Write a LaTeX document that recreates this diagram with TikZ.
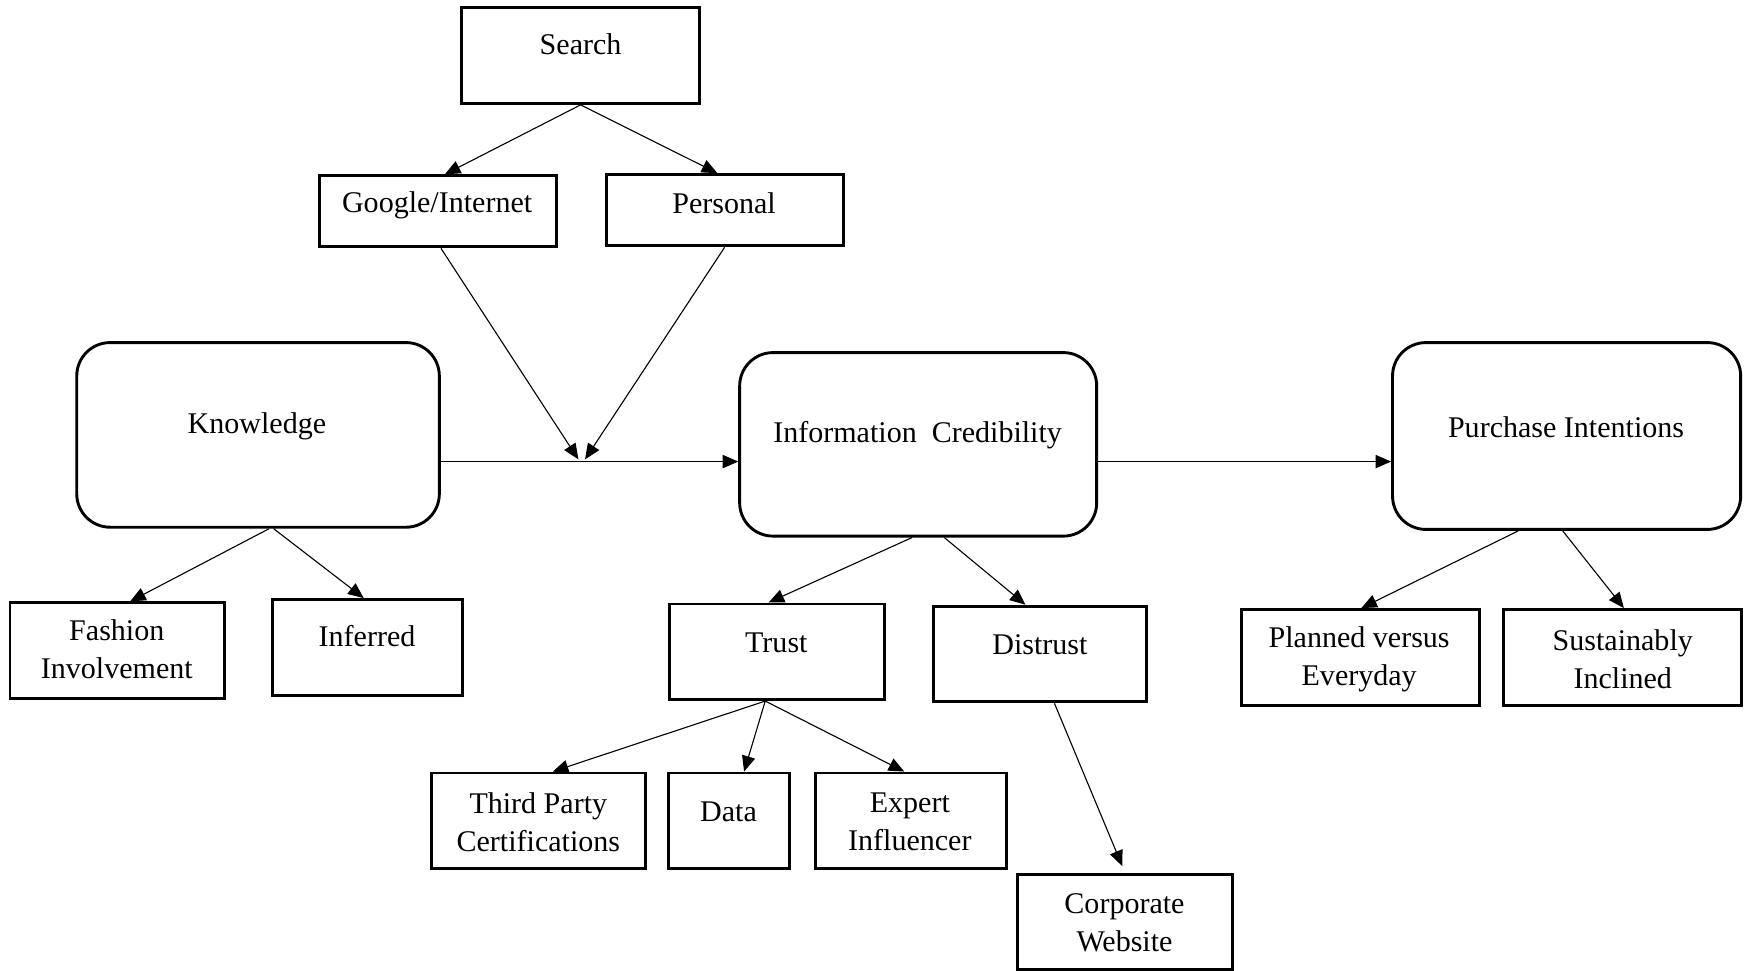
\documentclass[tikz,border=0pt]{standalone}
\usepackage{fontspec}
\setmainfont{Liberation Serif}
\usetikzlibrary{arrows.meta,fit,calc}
\tikzset{
  box/.style={draw, line width=1.3pt, inner sep=0pt},
  rbox/.style={box, rounded corners=15pt},
  txt/.style={inner sep=0pt, align=center, font=\fontsize{13.5}{17}\selectfont},
  arr/.style={line width=0.5pt, -{Triangle[length=7pt,width=6pt]}}
}
\begin{document}
\begin{tikzpicture}[x=0.5pt,y=-0.5pt]
\useasboundingbox (0,0) rectangle (1568,873);
% boxes
\node[box, fit={(415,7) (629,93)}] (search) {};
\node[box, fit={(287,158) (500,222)}] (google) {};
\node[box, fit={(545,157) (758,221)}] (personal) {};
\node[rbox, fit={(69,308) (395,474)}] (knowledge) {};
\node[rbox, fit={(665,317) (986,482)}] (ic) {};
\node[rbox, fit={(1252,308) (1565,476)}] (purchase) {};
\node[box, fit={(9,542) (202,628)}] (fashion) {};
\node[box, fit={(245,539) (416,625)}] (inferred) {};
\node[box, fit={(602,543) (795,629)}] (trust) {};
\node[box, fit={(839,545) (1031,631)}] (distrust) {};
\node[box, fit={(1116,548) (1330,634)}] (planned) {};
\node[box, fit={(1352,548) (1566,634)}] (sustain) {};
\node[box, fit={(388,695) (580,781)}] (third) {};
\node[box, fit={(601,695) (710,781)}] (data) {};
\node[box, fit={(733,695) (905,781)}] (expert) {};
\node[box, fit={(915,786) (1108,872)}] (corporate) {};
% texts
\node[txt] (t-search) at (522,40) {Search};
\node[txt] (t-google) at (393,185) {Google/Internet};
\node[txt] (t-personal) at (651,183) {Personal};
\node[txt] (t-knowledge) at (231,383) {Knowledge};
\node[txt] (t-ic) at (825,391) {Information\ \ Credibility};
\node[txt] (t-purchase) at (1408,384) {Purchase Intentions};
\node[txt] (t-fashion) at (105,584) {Fashion\\Involvement};
\node[txt] (t-inferred) at (330,572) {Inferred};
\node[txt] (t-trust) at (698,578) {Trust};
\node[txt] (t-distrust) at (935,580) {Distrust};
\node[txt] (t-planned) at (1222,593) {Planned versus\\Everyday};
\node[txt] (t-sustain) at (1459,593) {Sustainably\\Inclined};
\node[txt] (t-third) at (484,739) {Third Party\\Certifications};
\node[txt] (t-data) at (655,730) {Data};
\node[txt] (t-expert) at (818,739) {Expert\\Influencer};
\node[txt] (t-corporate) at (1011,830) {Corporate\\Website};
% junction
\coordinate (j) at (523,415);
\coordinate (jl) at (520,413);
\coordinate (jr) at (526,413);
% connectors
\draw[arr] (search.south) -- ([xshift=3.25pt]google.north);
\draw[arr] (search.south) -- ([xshift=-3.25pt]personal.north);
\draw[arr] ([xshift=1.5pt]google.south) -- (jl);
\draw[arr] (personal.south) -- (jr);
\draw[arr] (knowledge.east |- j) -- (ic.west |- j);
\draw[arr] (ic.east |- j) -- (purchase.west |- j);
\draw[arr] ([xshift=5pt]knowledge.south) -- ([xshift=5.75pt]fashion.north);
\draw[arr] ([xshift=7pt]knowledge.south) -- ([xshift=-1.75pt]inferred.north);
\draw[arr] ([xshift=-2.75pt]ic.south) -- ([xshift=-3.75pt]trust.north);
\draw[arr] ([xshift=11.75pt]ic.south) -- ([xshift=-6.5pt]distrust.north);
\draw[arr] ([xshift=-5.25pt]trust.south) -- ([xshift=6.5pt]third.north);
\draw[arr] ([xshift=-5.25pt]trust.south) -- ([xshift=6.75pt]data.north);
\draw[arr] ([xshift=-5.25pt]trust.south) -- ([xshift=-3pt]expert.north);
\draw[arr] ([xshift=6.5pt]distrust.south) -- ([xshift=-1.25pt,yshift=3pt]corporate.north);
\draw[arr] ([xshift=-21.75pt]purchase.south) -- ([xshift=0.5pt]planned.north);
\draw[arr] ([xshift=-1.75pt]purchase.south) -- ([xshift=0.5pt]sustain.north);
\end{tikzpicture}
\end{document}
